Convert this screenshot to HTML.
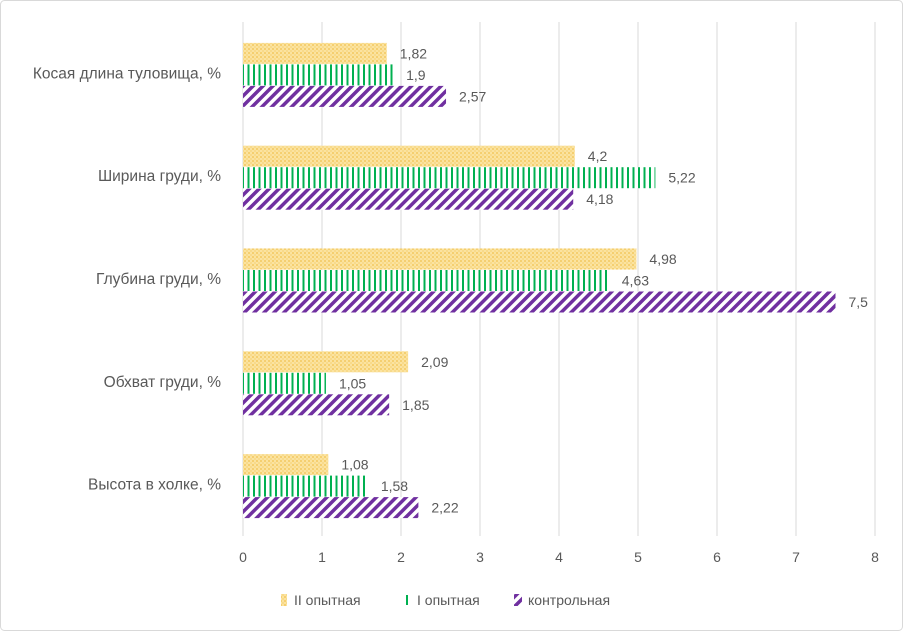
<!DOCTYPE html>
<html><head><meta charset="utf-8"><style>
html,body{margin:0;padding:0;background:#fff;}
body{width:903px;height:631px;overflow:hidden;font-family:"Liberation Sans","DejaVu Sans",sans-serif;}
</style></head><body>
<svg width="903" height="631" xmlns="http://www.w3.org/2000/svg">
<defs>
<pattern id="pY" width="4" height="4" patternUnits="userSpaceOnUse"><rect width="4" height="4" fill="#fbe3a0"/><circle cx="1" cy="1" r="0.9" fill="#f2c14e"/><circle cx="3" cy="3" r="0.9" fill="#f7d37a"/></pattern>
<pattern id="pG" width="5.5" height="10" patternUnits="userSpaceOnUse"><rect width="5.5" height="10" fill="#fff"/><rect x="0" width="2" height="10" fill="#00b050"/></pattern>
<pattern id="pP" width="7" height="7" patternUnits="userSpaceOnUse" patternTransform="rotate(45)"><rect width="7" height="7" fill="#fff"/><rect width="3.5" height="7" fill="#7030a0"/></pattern>
</defs>
<rect x="0.5" y="0.5" width="902" height="630" rx="4" fill="#fff" stroke="#d9d9d9"/>
<g id="grid"></g>
<g id="bars"></g>
<g id="labels" font-size="14" fill="#595959"></g>
<g font-size="14" fill="#595959">
<g><rect x="281" y="594" width="6" height="12" fill="url(#pY)"/><text x="294" y="605">II опытная</text></g>
<g><rect x="406" y="595" width="2" height="10" fill="#00b050"/><text x="417" y="605">I опытная</text></g>
<g><rect x="514" y="594" width="8" height="12" fill="url(#pP)"/><text x="528" y="605">контрольная</text></g>
</g>
</svg>
<script>
const categories=["Косая длина туловища, %","Ширина груди, %","Глубина груди, %","Обхват груди, %","Высота в холке, %"];
const seriesII=[1.82,4.2,4.98,2.09,1.08];
const seriesI=[1.9,5.22,4.63,1.05,1.58];
const seriesControl=[2.57,4.18,7.5,1.85,2.22];
const xTicks=[0,1,2,3,4,5,6,7,8];
const seriesNames=["II опытная","I опытная","контрольная"];
const NS="http://www.w3.org/2000/svg";
const x0=243,x1=875,xmax=8,yTop=22,yBottom=536;
const xs=v=>x0+(x1-x0)*v/xmax;
const band=(yBottom-yTop)/categories.length;
function mk(tag,attrs,parent){const e=document.createElementNS(NS,tag);for(const k in attrs)e.setAttribute(k,attrs[k]);parent.appendChild(e);return e;}
const grid=document.getElementById('grid'),bars=document.getElementById('bars'),labels=document.getElementById('labels');
xTicks.forEach(t=>{
  const l=mk('line',{x1:xs(t),x2:xs(t),y1:yTop,y2:yBottom,stroke:'#d9d9d9','stroke-width':1},grid);
  
  
  const tx=mk('text',{x:xs(t),y:yBottom+26,'text-anchor':'middle'},labels);
  tx.textContent=t;
  
  
});
const series=[seriesII,seriesI,seriesControl];
const fills=['url(#pY)','url(#pG)','url(#pP)'];
const bh=21;
categories.forEach((c,i)=>{
  const cy=yTop+band*(i+0.5);
  const ct=mk('text',{x:221,y:cy+5,'text-anchor':'end','font-size':'15.5'},labels);
  ct.textContent=c;
  
  
  series.forEach((s,j)=>{
    const y=cy-1.5*bh+1+j*(bh+0.5);
    const r=mk('rect',{x:x0,y:y,width:xs(s[i])-x0,height:bh,fill:fills[j]},bars);
    
    
    const lt=mk('text',{x:xs(s[i])+13,y:y+bh/2+5},labels);
    lt.textContent=String(s[i]).replace('.',',');
    
    
  });
});
</script>
</body></html>
